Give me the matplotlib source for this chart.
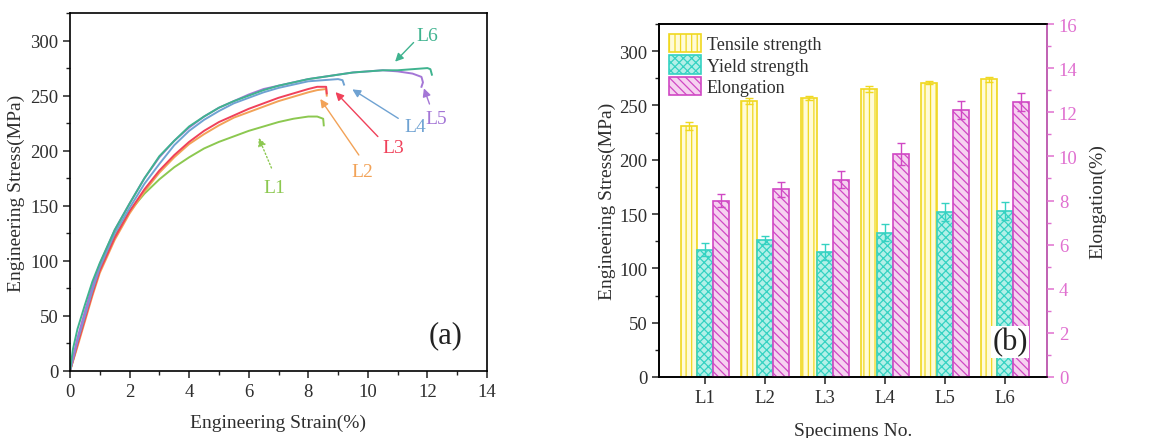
import numpy as np
import matplotlib
matplotlib.use('Agg')
import matplotlib.pyplot as plt
from matplotlib.ticker import MultipleLocator

plt.rcParams['font.family'] = ['Liberation Serif', 'DejaVu Serif']
plt.rcParams['hatch.linewidth'] = 0.9

# ---- (a) stress-strain curves ----
strain_L1 = [0, 0.25, 0.5, 0.75, 1, 1.5, 2, 2.5, 3, 3.5, 4, 4.5, 5, 5.5, 6,
             6.5, 7, 7.5, 8, 8.3, 8.5, 8.52]
stress_L1 = [0, 24, 48, 72, 93, 122, 145, 161, 174, 185, 194, 202, 208, 213, 218,
             222, 226, 229, 231, 231, 229, 223]
strain_L2 = [0, 0.25, 0.5, 0.75, 1, 1.5, 2, 2.5, 3, 3.5, 4, 4.5, 5, 5.5, 6,
             6.5, 7, 7.5, 8, 8.3, 8.6, 8.62]
stress_L2 = [0, 22, 45, 68, 89, 119, 143, 163, 180, 194, 206, 215, 223, 230, 235,
             240, 245, 249, 253, 255, 256, 250]
strain_L3 = [0, 0.25, 0.5, 0.75, 1, 1.5, 2, 2.5, 3, 3.5, 4, 4.5, 5, 5.5, 6,
             6.5, 7, 7.5, 8, 8.3, 8.6, 8.62]
stress_L3 = [0, 24, 47, 70, 91, 121, 145, 165, 182, 196, 208, 218, 226, 232, 238,
             243, 248, 252, 256, 258, 258, 252]
strain_L4 = [0, 0.25, 0.5, 0.75, 1, 1.5, 2, 2.5, 3, 3.5, 4, 4.5, 5, 5.5, 6,
             6.5, 7, 7.5, 8, 8.5, 9, 9.15, 9.2]
stress_L4 = [0, 27, 50, 73, 94, 125, 148, 170, 188, 205, 218, 228, 236, 243, 248,
             253, 257, 260, 263, 264, 265, 264, 260]
strain_L5 = [0, 0.25, 0.5, 0.75, 1, 1.5, 2, 2.5, 3, 3.5, 4, 4.5, 5, 5.5, 6,
             6.5, 7, 7.5, 8, 8.5, 9, 9.5, 10, 10.5, 11, 11.5, 11.8, 11.85, 11.8]
stress_L5 = [0, 30, 54, 77, 97, 128, 152, 175, 194, 209, 221, 231, 239, 245, 251,
             256, 259, 262, 265, 267, 269, 271, 272, 273, 272, 270, 267, 262, 258]
strain_L6 = [0, 0.1, 0.25, 0.5, 0.75, 1, 1.5, 2, 2.5, 3, 3.5, 4, 4.5, 5, 5.5, 6,
             6.5, 7, 7.5, 8, 8.5, 9, 9.5, 10, 10.5, 11, 11.5, 12, 12.1, 12.15]
stress_L6 = [0, 20, 38, 60, 81, 98, 128, 152, 175, 195, 209, 222, 231, 239, 245, 250,
             255, 259, 262, 265, 267, 269, 271, 272, 273, 273, 274, 275, 274, 269]

curves = [
    ('L1', strain_L1, stress_L1, '#8cc850'),
    ('L2', strain_L2, stress_L2, '#f2a257'),
    ('L3', strain_L3, stress_L3, '#f0415a'),
    ('L4', strain_L4, stress_L4, '#6fa2d2'),
    ('L5', strain_L5, stress_L5, '#a476d6'),
    ('L6', strain_L6, stress_L6, '#3fb38f'),
]
# label position, arrow start, arrow tip (strain, stress)
label_xy = {'L1': (6.85, 167), 'L2': (9.8, 181), 'L3': (10.85, 203),
            'L4': (11.6, 222), 'L5': (12.3, 229), 'L6': (11.98, 305)}
arrow_from = {'L1': (6.8, 182), 'L2': (9.75, 194), 'L3': (10.4, 211),
              'L4': (11.1, 228), 'L5': (12.1, 240), 'L6': (11.6, 300)}
arrow_to = {'L1': (6.3, 214), 'L2': (8.35, 249), 'L3': (8.85, 255),
            'L4': (9.4, 257), 'L5': (11.85, 259), 'L6': (10.85, 279)}

# ---- (b) mechanical properties ----
specimens = ['L1', 'L2', 'L3', 'L4', 'L5', 'L6']
tensile = [231, 254, 257, 265, 271, 274]
tensile_err = [4, 3, 2, 3, 1.5, 2]
yield_str = [117, 126, 115, 133, 152, 153]
yield_err = [6, 4, 7, 8, 8, 8]
elongation = [8.0, 8.5, 8.95, 10.1, 12.1, 12.45]
elongation_err = [0.3, 0.35, 0.4, 0.5, 0.4, 0.4]

txt = '#2e2e2e'
pink = '#e070d0'


def style_ax(ax):
    for s in ax.spines.values():
        s.set_linewidth(1.2)
    ax.tick_params(which='both', direction='out', colors='#222222',
                   labelcolor=txt, labelsize=13.5)
    ax.tick_params(which='major', length=5, width=1.1)
    ax.tick_params(which='minor', length=3, width=1.0)


fig = plt.figure(figsize=(11.74, 4.39), dpi=100)
ax1 = fig.add_axes([70 / 1174, 1 - 372 / 439, 417 / 1174, 358 / 439])
ax3 = fig.add_axes([659 / 1174, 1 - 378 / 439, 388 / 1174, 353 / 439])

# panel (a)
for name, x, y, c in curves:
    ax1.plot(x, y, color=c, lw=1.4)
    ls = ':' if name == 'L1' else '-'
    ax1.annotate('', xy=arrow_to[name], xytext=arrow_from[name],
                 arrowprops=dict(arrowstyle='-|>', color=c, lw=1.0,
                                 linestyle=ls, mutation_scale=12))
    ax1.text(*label_xy[name], name, color=c, fontsize=14,
             ha='center', va='center')

ax1.set_xlim(0, 14)
ax1.set_ylim(0, 325)
ax1.xaxis.set_major_locator(MultipleLocator(2))
ax1.xaxis.set_minor_locator(MultipleLocator(1))
ax1.yaxis.set_major_locator(MultipleLocator(50))
ax1.yaxis.set_minor_locator(MultipleLocator(25))
style_ax(ax1)
ax1.set_xlabel('Engineering Strain(%)', fontsize=14, color=txt, labelpad=10)
ax1.set_ylabel('Engineering Stress(MPa)', fontsize=14, color=txt, labelpad=4)
ax1.text(0.9, 0.1, '(a)', transform=ax1.transAxes, fontsize=22,
         color='#222222', ha='center', va='center')

# panel (b)
ax4 = ax3.twinx()
pos = np.arange(1, len(specimens) + 1)
w = 0.27
b1 = ax3.bar(pos - w, tensile, w, yerr=tensile_err, color='#fffbd8',
             edgecolor='#f0d820', hatch='|||', lw=1.2, label='Tensile strength',
             error_kw=dict(ecolor='#f0d820', capsize=3, lw=1.0))
b2 = ax3.bar(pos, yield_str, w, yerr=yield_err, color='#b4f0e8',
             edgecolor='#35d2c2', hatch='xxxx', lw=1.2, label='Yield strength',
             error_kw=dict(ecolor='#35d2c2', capsize=3, lw=1.0))
b3 = ax4.bar(pos + w, elongation, w, yerr=elongation_err, color='#f6d2f0',
             edgecolor='#d048c4', hatch='\\\\\\\\', lw=1.2, label='Elongation',
             error_kw=dict(ecolor='#d048c4', capsize=3, lw=1.0))

ax3.set_xlim(0.23, 6.7)
ax3.set_ylim(0, 325)
ax4.set_ylim(0, 16)
ax3.set_xticks(pos)
ax3.set_xticklabels(specimens)
ax3.yaxis.set_major_locator(MultipleLocator(50))
ax3.yaxis.set_minor_locator(MultipleLocator(25))
ax4.yaxis.set_major_locator(MultipleLocator(2))
ax4.yaxis.set_minor_locator(MultipleLocator(1))
style_ax(ax3)
style_ax(ax4)
ax4.spines['right'].set_color(pink)
ax4.tick_params(axis='y', which='both', colors=pink, labelcolor=pink)
ax3.set_xlabel('Specimens No.', fontsize=14, color=txt, labelpad=12)
ax3.set_ylabel('Engineering Stress(MPa)', fontsize=14, color=txt, labelpad=2)
ax4.set_ylabel('Elongation(%)', fontsize=14, color=txt, labelpad=8)

leg = ax4.legend([b1, b2, b3], ['Tensile strength', 'Yield strength', 'Elongation'],
                 loc='upper left', frameon=False, fontsize=13,
                 handlelength=1.75, handleheight=1.2, labelspacing=0.12,
                 handletextpad=0.35, borderaxespad=0.15)
for t in leg.get_texts():
    t.set_color(txt)
ax4.text(0.905, 0.1, '(b)', transform=ax4.transAxes, fontsize=22,
         color='#222222', ha='center', va='center',
         bbox=dict(facecolor='white', edgecolor='none', pad=1))

fig.savefig('out.png', dpi=100)
